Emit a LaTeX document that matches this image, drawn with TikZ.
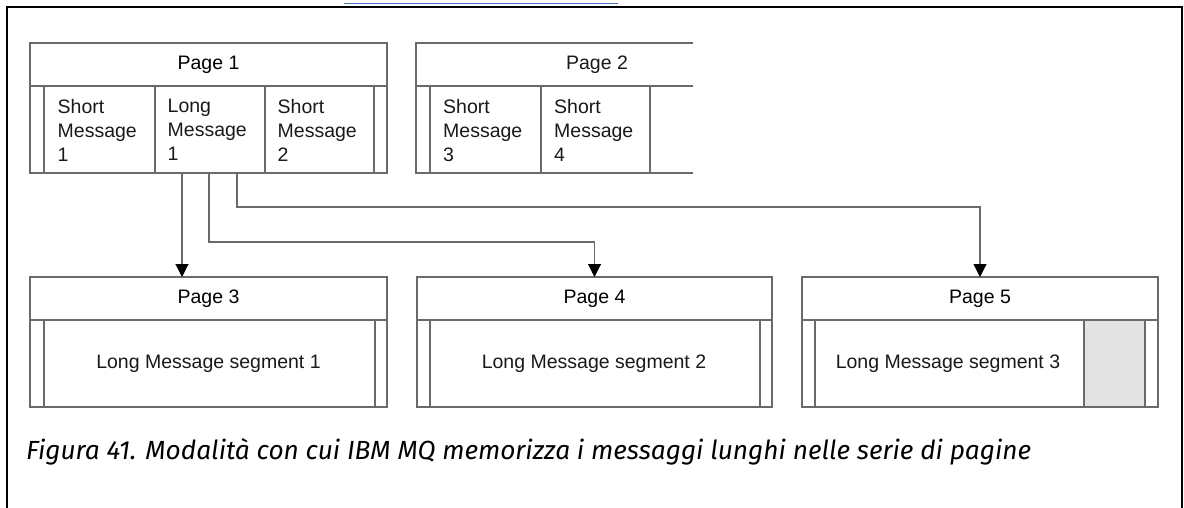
\documentclass[tikz,border=0pt]{standalone}
\usepackage{fontspec}
\setmainfont{Liberation Sans}
\newfontfamily\capfont{Fira Sans}
\usetikzlibrary{arrows.meta}
\definecolor{ln}{HTML}{6A6A6A}
\definecolor{shade}{HTML}{E3E3E3}
\definecolor{linkblue}{HTML}{4A72C4}
\begin{document}
\begin{tikzpicture}[x=1pt,y=-1pt,
  box/.style={draw=ln, line width=1.2pt, rectangle, inner sep=0pt, outer sep=0pt, anchor=north west,
              font=\fontsize{19.5}{24}\selectfont},
  lbl/.style={font=\fontsize{19.5}{24}\selectfont, inner sep=0pt, text=black!90},
  celltext/.style={lbl, align=left, anchor=north west},
  conn/.style={draw=ln, line width=1.1pt},
  arr/.style={conn, -{Triangle[width=13pt,length=13pt,fill=black,color=black]}},
  frame/.style={draw=black, line width=2pt},
]
\useasboundingbox (0,0) rectangle (1184,508);
\fill[white] (0,0) rectangle (1184,508);

% outer frame and cut-off link underline
\draw[frame] (7,508) -- (7,7) -- (1182,7) -- (1182,508);
\draw[linkblue, line width=1pt] (344,4) -- (618,4);

% ---------- Page 1 ----------
\node[box, minimum width=357pt, minimum height=43pt] (p1h) at (30,43) {Page 1};
\node[box, minimum width=14pt, minimum height=87pt] (p1l) at (30,86) {};
\node[box, minimum width=111pt, minimum height=87pt] (c11) at (44,86) {};
\node[box, minimum width=110pt, minimum height=87pt] (c12) at (155,86) {};
\node[box, minimum width=109pt, minimum height=87pt] (c13) at (265,86) {};
\node[box, minimum width=13pt, minimum height=87pt] (p1r) at (374,86) {};
\node[celltext] (t11) at (57.5,99) {Short\\Message\\1};
\node[celltext] (t12) at (167.5,99) {Long\\Message\\1};
\node[celltext] (t13) at (277.5,99) {Short\\Message\\2};

% ---------- Page 2 (cut at the right) ----------
\draw[conn] (693,43) -- (416,43) -- (416,86) -- (693,86);
\node[lbl] (p2t) at (597,64.5) {Page 2};
\node[box, minimum width=14pt, minimum height=87pt] (p2l) at (416,86) {};
\node[box, minimum width=111pt, minimum height=87pt] (c21) at (430,86) {};
\node[box, minimum width=109pt, minimum height=87pt] (c22) at (541,86) {};
\draw[conn] (c22.north east) -- (693,86);
\draw[conn] (c22.south east) -- (693,173);
\node[celltext] (t21) at (443,99) {Short\\Message\\3};
\node[celltext] (t22) at (554,99) {Short\\Message\\4};

% ---------- Page 3 ----------
\node[box, minimum width=357pt, minimum height=43pt] (p3h) at (30,277) {Page 3};
\node[box, minimum width=14pt, minimum height=87pt] (p3l) at (30,320) {};
\node[box, minimum width=331pt, minimum height=87pt] (c3) at (44,320) {};
\node[box, minimum width=12pt, minimum height=87pt] (p3r) at (375,320) {};
\node[lbl] (t3) at (208.5,363.5) {Long Message segment 1};

% ---------- Page 4 ----------
\node[box, minimum width=355pt, minimum height=43pt] (p4h) at (417,277) {Page 4};
\node[box, minimum width=13pt, minimum height=87pt] (p4l) at (417,320) {};
\node[box, minimum width=330pt, minimum height=87pt] (c4) at (430,320) {};
\node[box, minimum width=12pt, minimum height=87pt] (p4r) at (760,320) {};
\node[lbl] (t4) at (594,363.5) {Long Message segment 2};

% ---------- Page 5 ----------
\node[box, minimum width=356pt, minimum height=43pt] (p5h) at (802,277) {Page 5};
\node[box, minimum width=13pt, minimum height=87pt] (p5l) at (802,320) {};
\node[box, minimum width=269pt, minimum height=87pt] (c5) at (815,320) {};
\node[box, fill=shade, minimum width=61pt, minimum height=87pt] (g5) at (1084,320) {};
\node[box, minimum width=13pt, minimum height=87pt] (p5r) at (1145,320) {};
\node[lbl] (t5) at (948,363.5) {Long Message segment 3};

% ---------- connectors ----------
\coordinate (s1) at (182,173);
\coordinate (s2) at (209,173);
\coordinate (s3) at (237,173);
\coordinate (j2) at (0,242);
\coordinate (j3) at (0,207);
\draw[arr] (s1) -- (s1 |- p3h.north);
\draw[arr] (s2) |- (j2 -| p4h.north) -- (p4h.north);
\draw[arr] (s3) |- (j3 -| p5h.north) -- (p5h.north);

% ---------- caption ----------
\node[anchor=base west, inner sep=0pt] (cap) at (26,459)
  {\resizebox{1005pt}{!}{\capfont\itshape Figura 41. Modalità con cui IBM MQ memorizza i messaggi lunghi nelle serie di pagine}};
\end{tikzpicture}
\end{document}
